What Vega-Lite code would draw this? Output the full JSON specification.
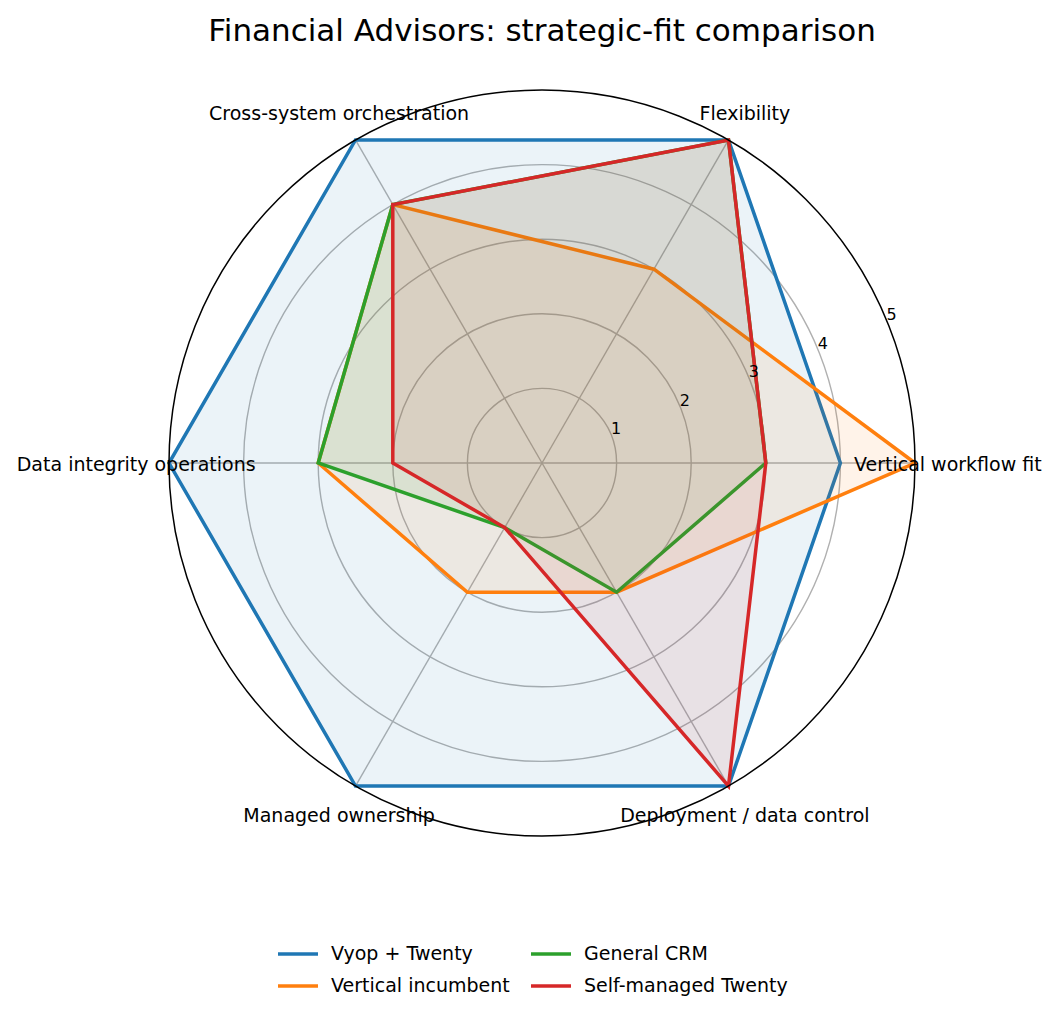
{
  "$schema": "https://vega.github.io/schema/vega-lite/v6.json",
  "autosize": "none",
  "width": 746,
  "height": 746,
  "padding": {"left": 169, "top": 90, "right": 144, "bottom": 180},
  "config": {
    "font": "DejaVu Sans",
    "view": {"stroke": null}
  },
  "title": {
    "text": "Financial Advisors: strategic-fit comparison",
    "fontSize": 31,
    "fontWeight": "normal",
    "color": "#000000",
    "anchor": "middle",
    "offset": 39
  },
  "datasets": {
    "scores": [
      {"series": "Vyop + Twenty", "idx": 0, "axis": "Vertical workflow fit", "value": 4},
      {"series": "Vyop + Twenty", "idx": 1, "axis": "Flexibility", "value": 5},
      {"series": "Vyop + Twenty", "idx": 2, "axis": "Cross-system orchestration", "value": 5},
      {"series": "Vyop + Twenty", "idx": 3, "axis": "Data integrity operations", "value": 5},
      {"series": "Vyop + Twenty", "idx": 4, "axis": "Managed ownership", "value": 5},
      {"series": "Vyop + Twenty", "idx": 5, "axis": "Deployment / data control", "value": 5},
      {"series": "Vertical incumbent", "idx": 0, "axis": "Vertical workflow fit", "value": 5},
      {"series": "Vertical incumbent", "idx": 1, "axis": "Flexibility", "value": 3},
      {"series": "Vertical incumbent", "idx": 2, "axis": "Cross-system orchestration", "value": 4},
      {"series": "Vertical incumbent", "idx": 3, "axis": "Data integrity operations", "value": 3},
      {"series": "Vertical incumbent", "idx": 4, "axis": "Managed ownership", "value": 2},
      {"series": "Vertical incumbent", "idx": 5, "axis": "Deployment / data control", "value": 2},
      {"series": "General CRM", "idx": 0, "axis": "Vertical workflow fit", "value": 3},
      {"series": "General CRM", "idx": 1, "axis": "Flexibility", "value": 5},
      {"series": "General CRM", "idx": 2, "axis": "Cross-system orchestration", "value": 4},
      {"series": "General CRM", "idx": 3, "axis": "Data integrity operations", "value": 3},
      {"series": "General CRM", "idx": 4, "axis": "Managed ownership", "value": 1},
      {"series": "General CRM", "idx": 5, "axis": "Deployment / data control", "value": 2},
      {"series": "Self-managed Twenty", "idx": 0, "axis": "Vertical workflow fit", "value": 3},
      {"series": "Self-managed Twenty", "idx": 1, "axis": "Flexibility", "value": 5},
      {"series": "Self-managed Twenty", "idx": 2, "axis": "Cross-system orchestration", "value": 4},
      {"series": "Self-managed Twenty", "idx": 3, "axis": "Data integrity operations", "value": 2},
      {"series": "Self-managed Twenty", "idx": 4, "axis": "Managed ownership", "value": 1},
      {"series": "Self-managed Twenty", "idx": 5, "axis": "Deployment / data control", "value": 5}
    ],
    "spokes": [
      {"idx": 0, "axis": "Vertical workflow fit"},
      {"idx": 1, "axis": "Flexibility"},
      {"idx": 2, "axis": "Cross-system orchestration"},
      {"idx": 3, "axis": "Data integrity operations"},
      {"idx": 4, "axis": "Managed ownership"},
      {"idx": 5, "axis": "Deployment / data control"}
    ],
    "rings": [
      {"r": 1, "outer": false},
      {"r": 2, "outer": false},
      {"r": 3, "outer": false},
      {"r": 4, "outer": false},
      {"r": 5, "outer": true}
    ]
  },
  "layer": [
    {
      "data": {"name": "rings"},
      "transform": [
        {"filter": "!datum.outer"},
        {"calculate": "0", "as": "cx"}
      ],
      "mark": {"type": "point", "shape": "circle", "filled": false, "stroke": "#b0b0b0", "strokeWidth": 1.4, "opacity": 1},
      "encoding": {
        "x": {"field": "cx", "type": "quantitative", "scale": {"domain": [-5, 5], "nice": false, "zero": false}, "axis": null},
        "y": {"field": "cx", "type": "quantitative", "scale": {"domain": [-5, 5], "nice": false, "zero": false}, "axis": null},
        "size": {"field": "r", "type": "quantitative", "legend": null,
          "scale": {"type": "pow", "exponent": 2, "domain": [0, 5], "range": [0, 556516], "zero": true, "nice": false}}
      }
    },
    {
      "data": {"name": "spokes"},
      "transform": [
        {"calculate": "5 * cos(datum.idx * PI / 3)", "as": "sx"},
        {"calculate": "5 * sin(datum.idx * PI / 3)", "as": "sy"},
        {"calculate": "0", "as": "cx"}
      ],
      "mark": {"type": "rule", "color": "#b0b0b0", "strokeWidth": 1.4},
      "encoding": {
        "x": {"field": "cx", "type": "quantitative"},
        "y": {"field": "cx", "type": "quantitative"},
        "x2": {"field": "sx"},
        "y2": {"field": "sy"}
      }
    },
    {
      "data": {"name": "scores"},
      "transform": [
        {"calculate": "datum.value * cos(datum.idx * PI / 3)", "as": "px"},
        {"calculate": "datum.value * sin(datum.idx * PI / 3)", "as": "py"}
      ],
      "mark": {"type": "line", "interpolate": "linear-closed", "strokeWidth": 3.5, "fillOpacity": 0.09},
      "encoding": {
        "x": {"field": "px", "type": "quantitative"},
        "y": {"field": "py", "type": "quantitative"},
        "order": {"field": "idx", "type": "quantitative"},
        "color": {
          "field": "series",
          "type": "nominal",
          "scale": {
            "domain": ["Vyop + Twenty", "General CRM", "Vertical incumbent", "Self-managed Twenty"],
            "range": ["#1f77b4", "#2ca02c", "#ff7f0e", "#d62728"]
          },
          "legend": {
            "title": null,
            "orient": "none",
            "legendX": 107,
            "legendY": 842,
            "padding": 0,
            "direction": "horizontal",
            "columns": 2,
            "symbolType": "stroke",
            "symbolStrokeWidth": 3.5,
            "symbolSize": 1600,
            "labelFontSize": 19,
            "labelColor": "#000000",
            "labelOffset": 11,
            "labelLimit": 400,
            "columnPadding": 14,
            "rowPadding": -18
          }
        },
        "fill": {
          "field": "series",
          "type": "nominal",
          "legend": null,
          "scale": {
            "domain": ["Vyop + Twenty", "General CRM", "Vertical incumbent", "Self-managed Twenty"],
            "range": ["#1f77b4", "#2ca02c", "#ff7f0e", "#d62728"]
          }
        }
      }
    },
    {
      "data": {"name": "rings"},
      "transform": [
        {"filter": "datum.outer"},
        {"calculate": "0", "as": "cx"}
      ],
      "mark": {"type": "point", "shape": "circle", "filled": false, "stroke": "#000000", "strokeWidth": 1.5, "opacity": 1},
      "encoding": {
        "x": {"field": "cx", "type": "quantitative"},
        "y": {"field": "cx", "type": "quantitative"},
        "size": {"field": "r", "type": "quantitative", "legend": null}
      }
    },
    {
      "data": {"name": "spokes"},
      "transform": [
        {"calculate": "5.44 * cos(datum.idx * PI / 3)", "as": "lx"},
        {"calculate": "5.44 * sin(datum.idx * PI / 3)", "as": "ly"}
      ],
      "mark": {"type": "text", "align": "center", "baseline": "middle", "fontSize": 19, "dy": 2, "color": "#000000"},
      "encoding": {
        "x": {"field": "lx", "type": "quantitative"},
        "y": {"field": "ly", "type": "quantitative"},
        "text": {"field": "axis", "type": "nominal"}
      }
    },
    {
      "data": {"name": "rings"},
      "transform": [
        {"calculate": "datum.r * cos(PI / 8)", "as": "tx"},
        {"calculate": "datum.r * sin(PI / 8)", "as": "ty"}
      ],
      "mark": {"type": "text", "align": "left", "baseline": "alphabetic", "fontSize": 16, "color": "#000000"},
      "encoding": {
        "x": {"field": "tx", "type": "quantitative"},
        "y": {"field": "ty", "type": "quantitative"},
        "text": {"field": "r", "type": "quantitative"}
      }
    }
  ]
}
